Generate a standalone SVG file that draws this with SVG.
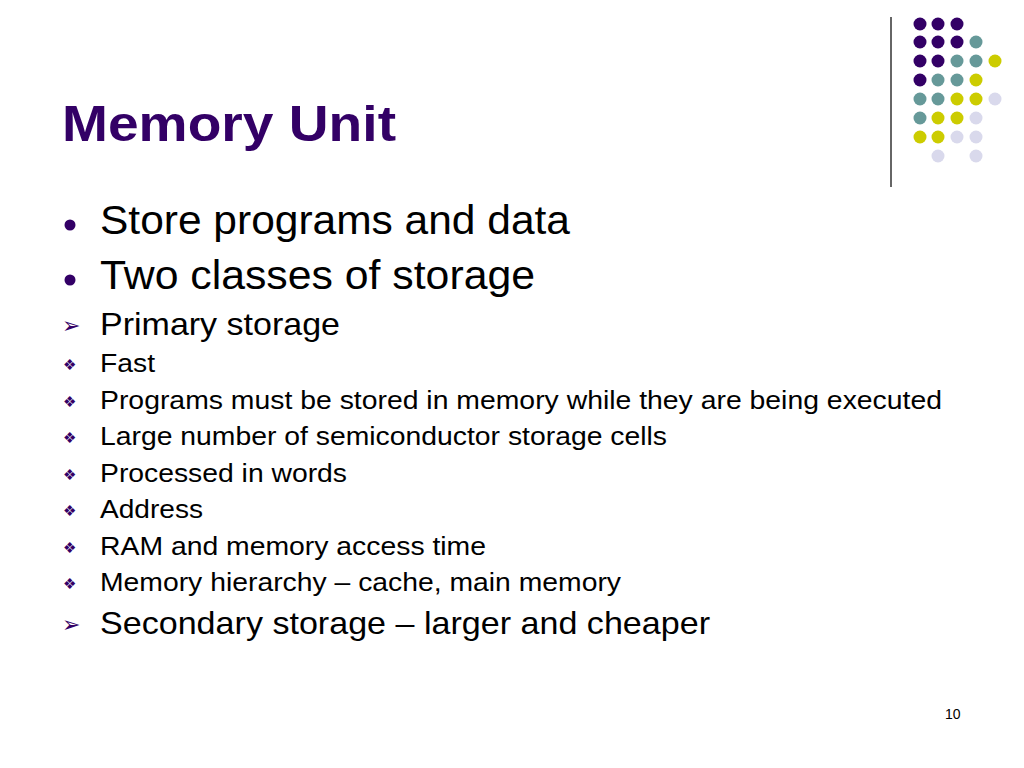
<svg xmlns="http://www.w3.org/2000/svg" width="1024" height="768" viewBox="0 0 1024 768">
<style>
.t{font-family:"Liberation Sans",Arial,sans-serif;fill:#000}
.b{font-family:"DejaVu Sans",sans-serif;fill:#330066}
.P{fill:#330066}.T{fill:#669999}.Y{fill:#cccc00}.L{fill:#d9d9ec}
</style>
<rect width="1024" height="768" fill="#fff"/>
<line x1="891" y1="17" x2="891" y2="187" stroke="#333" stroke-width="1.5"/>
<g id="dots">
<circle class="P" cx="920" cy="24" r="6.5"/><circle class="P" cx="938" cy="24" r="6.5"/><circle class="P" cx="957" cy="24" r="6.5"/>
<circle class="P" cx="920" cy="42" r="6.5"/><circle class="P" cx="938" cy="42" r="6.5"/><circle class="P" cx="957" cy="42" r="6.5"/><circle class="T" cx="976" cy="42" r="6.5"/>
<circle class="P" cx="920" cy="61" r="6.5"/><circle class="P" cx="938" cy="61" r="6.5"/><circle class="T" cx="957" cy="61" r="6.5"/><circle class="T" cx="976" cy="61" r="6.5"/><circle class="Y" cx="995" cy="61" r="6.5"/>
<circle class="P" cx="920" cy="80" r="6.5"/><circle class="T" cx="938" cy="80" r="6.5"/><circle class="T" cx="957" cy="80" r="6.5"/><circle class="Y" cx="976" cy="80" r="6.5"/>
<circle class="T" cx="920" cy="99" r="6.5"/><circle class="T" cx="938" cy="99" r="6.5"/><circle class="Y" cx="957" cy="99" r="6.5"/><circle class="Y" cx="976" cy="99" r="6.5"/><circle class="L" cx="995" cy="99" r="6.5"/>
<circle class="T" cx="920" cy="118" r="6.5"/><circle class="Y" cx="938" cy="118" r="6.5"/><circle class="Y" cx="957" cy="118" r="6.5"/><circle class="L" cx="976" cy="118" r="6.5"/>
<circle class="Y" cx="920" cy="137" r="6.5"/><circle class="Y" cx="938" cy="137" r="6.5"/><circle class="L" cx="957" cy="137" r="6.5"/><circle class="L" cx="976" cy="137" r="6.5"/>
<circle class="L" cx="938" cy="156" r="6.5"/><circle class="L" cx="976" cy="156" r="6.5"/>
</g>
<text x="62" y="141" font-family="Liberation Sans,Arial,sans-serif" font-weight="bold" font-size="50" fill="#330066" textLength="334" lengthAdjust="spacingAndGlyphs">Memory Unit</text>
<circle class="P" cx="70" cy="225" r="5.5"/>
<circle class="P" cx="70" cy="280" r="5.5"/>
<text class="t" x="100" y="234" font-size="40" textLength="470" lengthAdjust="spacingAndGlyphs">Store programs and data</text>
<text class="t" x="100" y="289" font-size="40" textLength="435" lengthAdjust="spacingAndGlyphs">Two classes of storage</text>
<text class="b" x="62" y="333" font-size="22">➢</text>
<text class="t" x="100" y="335" font-size="32" textLength="240" lengthAdjust="spacingAndGlyphs">Primary storage</text>
<g font-size="15" class="b">
<text x="63" y="370">❖</text><text x="63" y="407">❖</text><text x="63" y="443">❖</text><text x="63" y="480">❖</text><text x="63" y="516">❖</text><text x="63" y="553">❖</text><text x="63" y="589">❖</text>
</g>
<g class="t" font-size="26">
<text x="100" y="372" textLength="55" lengthAdjust="spacingAndGlyphs">Fast</text>
<text x="100" y="409" textLength="842" lengthAdjust="spacingAndGlyphs">Programs must be stored in memory while they are being executed</text>
<text x="100" y="445" textLength="567" lengthAdjust="spacingAndGlyphs">Large number of semiconductor storage cells</text>
<text x="100" y="482" textLength="247" lengthAdjust="spacingAndGlyphs">Processed in words</text>
<text x="100" y="518" textLength="103" lengthAdjust="spacingAndGlyphs">Address</text>
<text x="100" y="555" textLength="386" lengthAdjust="spacingAndGlyphs">RAM and memory access time</text>
<text x="100" y="591" textLength="521" lengthAdjust="spacingAndGlyphs">Memory hierarchy – cache, main memory</text>
</g>
<text class="b" x="62" y="632" font-size="22">➢</text>
<text class="t" x="100" y="634" font-size="32" textLength="610" lengthAdjust="spacingAndGlyphs">Secondary storage – larger and cheaper</text>
<text class="t" x="945" y="719" font-size="14">10</text>
</svg>
